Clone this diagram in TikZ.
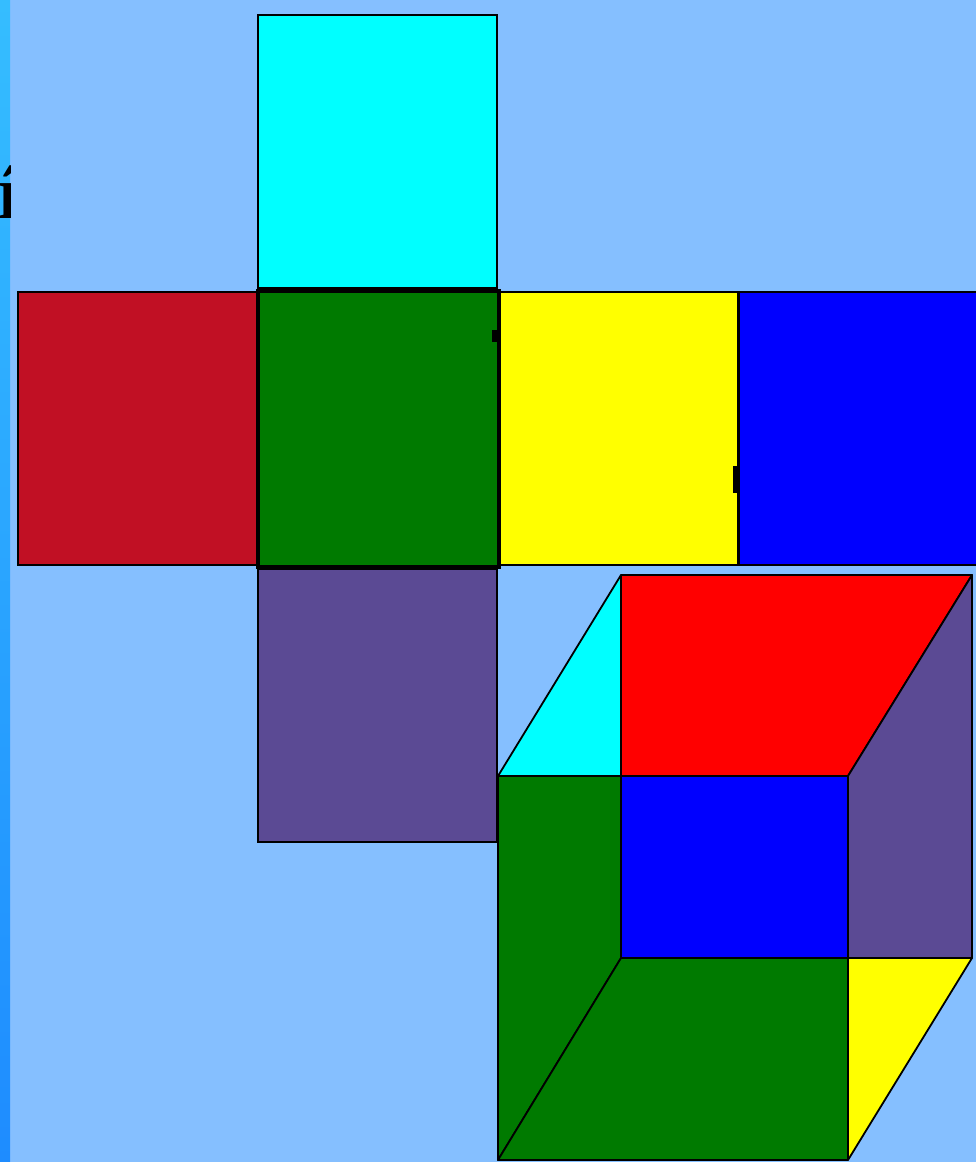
\documentclass[tikz,border=0pt]{standalone}
\usepackage{fontspec}
\setmainfont{Liberation Serif}
\definecolor{skyback}{HTML}{85BFFF}
\definecolor{stripTop}{HTML}{35BDFF}
\definecolor{stripBot}{HTML}{1E8CFF}
\definecolor{faceCyan}{HTML}{00FFFF}
\definecolor{faceCrimson}{HTML}{C11024}
\definecolor{faceGreen}{HTML}{007A00}
\definecolor{faceYellow}{HTML}{FFFF00}
\definecolor{faceBlue}{HTML}{0000FF}
\definecolor{facePurple}{HTML}{5B4A94}
\definecolor{faceRed}{HTML}{FF0000}

\begin{document}
\begin{tikzpicture}[
    x=1pt, y=-1pt,
    face/.style={
        draw=black, line width=2pt, inner sep=0pt, outer sep=0pt,
        minimum width=239pt, minimum height=273pt,
    },
    midface/.style={face, line width=4pt, minimum width=241pt, minimum height=276pt},
    panel/.style={draw=black, line width=1.8pt, line join=round},
]
\useasboundingbox (0,0) rectangle (976,1162);
\clip (0,0) rectangle (976,1162);

% background and left strip
\fill[skyback] (0,0) rectangle (976,1162);
\shade[top color=stripTop, bottom color=stripBot] (0,0) rectangle (10,1162);
\begin{scope}
    \clip (0,0) rectangle (10,1162);
    \node[anchor=base west, inner sep=0pt, font=\fontsize{76}{76}\selectfont\bfseries] (letter) at (-2,218) {í};
\end{scope}

% net of the cube
\node[face, fill=faceCyan] (netTop) at (377,151.5) {};
\node[face, fill=faceCrimson] (netLeft) at (137,428.5) {};
\node[face, fill=faceYellow] (netRight) at (618.5,428.5) {};
\node[face, fill=faceBlue] (netBack) at (858.5,428.5) {};
\node[face, fill=facePurple] (netBottom) at (377,705.5) {};
\node[midface, fill=faceGreen] (netMid) at (378,428.5) {};

% small marks on the seams
\fill[black] (492,330) rectangle (497,342);
\fill[black] (733,466) rectangle (738,493);

% cube corners
\coordinate (backNW) at (621,575);
\coordinate (backNE) at (972,575);
\coordinate (backSE) at (972,958);
\coordinate (frontNW) at (498,776);
\coordinate (frontSW) at (498,1160);
\coordinate (frontSE) at (848,1160);
\coordinate (innerNW) at (621,776);
\coordinate (innerNE) at (848,776);
\coordinate (innerSW) at (621,958);
\coordinate (innerSE) at (848,958);

% cube panels
\draw[panel, fill=faceCyan] (frontNW) -- (backNW) -- (innerNW) -- cycle;
\draw[panel, fill=faceRed] (backNW) -- (backNE) -- (innerNE) -- (innerNW) -- cycle;
\draw[panel, fill=facePurple] (innerNE) -- (backNE) -- (backSE) -- (innerSE) -- cycle;
\draw[panel, fill=faceYellow] (innerSE) -- (backSE) -- (frontSE) -- cycle;
\draw[panel, fill=faceGreen] (frontNW) -- (innerNW) -- (innerSW) -- (frontSW) -- cycle;
\draw[panel, fill=faceGreen] (innerSW) -- (innerSE) -- (frontSE) -- (frontSW) -- cycle;
\draw[panel, fill=faceBlue] (innerNW) -- (innerNE) -- (innerSE) -- (innerSW) -- cycle;

\end{tikzpicture}
\end{document}
